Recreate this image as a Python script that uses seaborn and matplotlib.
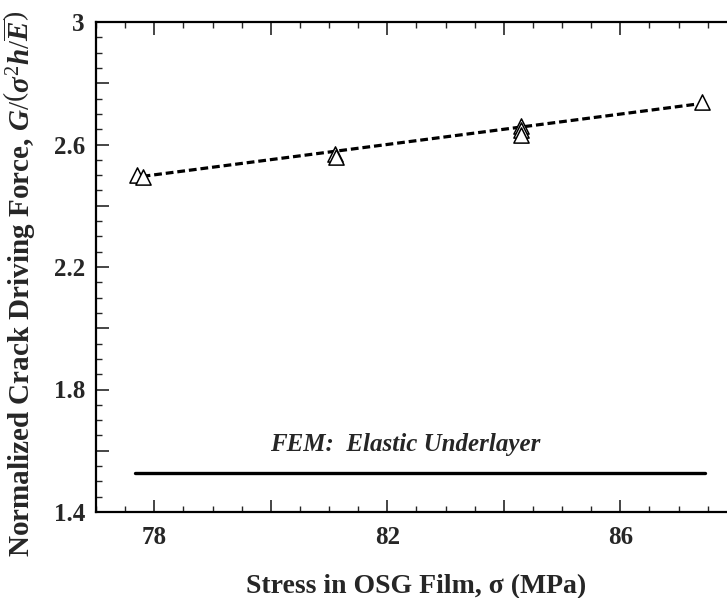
import matplotlib
matplotlib.use("Agg")
import matplotlib.pyplot as plt
import seaborn as sns
import pandas as pd
from matplotlib.ticker import MultipleLocator

sns.set_theme(style="ticks")
plt.rcParams['font.family'] = ['Liberation Serif', 'DejaVu Serif']
plt.rcParams['mathtext.fontset'] = 'custom'
plt.rcParams['mathtext.rm'] = 'Liberation Serif'
plt.rcParams['mathtext.it'] = 'Liberation Serif:italic:bold'
plt.rcParams['mathtext.bf'] = 'Liberation Serif:bold'
plt.rcParams['lines.scale_dashes'] = False

# Data
stress = [77.70, 77.80, 81.10, 81.12, 84.30, 84.30, 84.30, 87.40]
force = [2.500, 2.493, 2.570, 2.558, 2.662, 2.648, 2.632, 2.739]
fit_x = [77.80, 87.32]
fit_y = [2.496, 2.732]
ref_x = [77.67, 87.45]
ref_y = [1.527, 1.527]
x_major = [78, 80, 82, 84, 86, 88]
x_labeled = [78, 82, 86]
y_major = [1.4, 1.6, 1.8, 2.0, 2.2, 2.4, 2.6, 2.8, 3.0]
y_labeled = [1.4, 1.8, 2.2, 2.6, 3.0]
y_label_text = ["1.4", "1.8", "2.2", "2.6", "3"]

df = pd.DataFrame({"stress": stress, "force": force})
fit = pd.DataFrame({"x": fit_x, "y": fit_y})
ref = pd.DataFrame({"x": ref_x, "y": ref_y})

W, H = 727, 598
fig = plt.figure(figsize=(W / 100, H / 100), dpi=100)
ax = fig.add_axes([96 / W, (H - 512) / H, 640.75 / W, 490 / H])

sns.lineplot(data=ref, x="x", y="y", ax=ax, color="black", linewidth=2.4)
sns.lineplot(data=fit, x="x", y="y", ax=ax, color="black", linewidth=2.3)
ax.lines[-1].set_dashes((5.6, 2.8))
sns.scatterplot(data=df, x="stress", y="force", ax=ax, marker="^", s=120,
                facecolor="white", edgecolor="black", linewidth=1.1, zorder=3)

ax.set_xlim(77, 88)
ax.set_ylim(1.4, 3.0)
ax.set_xticks(x_major)
ax.set_xticklabels([str(t) if t in x_labeled else "" for t in x_major])
ax.xaxis.set_minor_locator(MultipleLocator(0.5))
ax.set_yticks(y_major)
lab = []
for t in y_major:
    m = [l for v, l in zip(y_labeled, y_label_text) if abs(v - t) < 1e-6]
    lab.append(m[0] if m else "")
ax.set_yticklabels(lab)
ax.yaxis.set_minor_locator(MultipleLocator(0.05))

ax.tick_params(axis="both", which="major", direction="in", length=9, width=1.2,
               labelsize=18, top=True, right=False)
ax.tick_params(axis="y", which="major", pad=8)
ax.tick_params(axis="x", which="major", pad=10)
ax.tick_params(axis="both", which="minor", direction="in", length=4.5, width=1.0,
               top=True, right=False)
for t in ax.get_xticklabels() + ax.get_yticklabels():
    t.set_fontweight("bold")

for s in ["left", "bottom", "top"]:
    ax.spines[s].set_linewidth(1.6)
    ax.spines[s].set_color("black")
ax.spines["right"].set_visible(False)

ax.set_xlabel("Stress in OSG Film, σ (MPa)", fontsize=20, fontweight="bold",
              labelpad=18)
ax.set_ylabel(r"Normalized Crack Driving Force, $G/\left(\sigma^{2}h/\overline{E}\right)$",
              fontsize=21, fontweight="bold")
ax.yaxis.set_label_coords(-0.090, 0.465)

ax.text(82.3, 1.62, "FEM:  Elastic Underlayer", fontsize=18, fontweight="bold",
        fontstyle="italic", ha="center", va="center")

fig.savefig("out.png", dpi=100)
